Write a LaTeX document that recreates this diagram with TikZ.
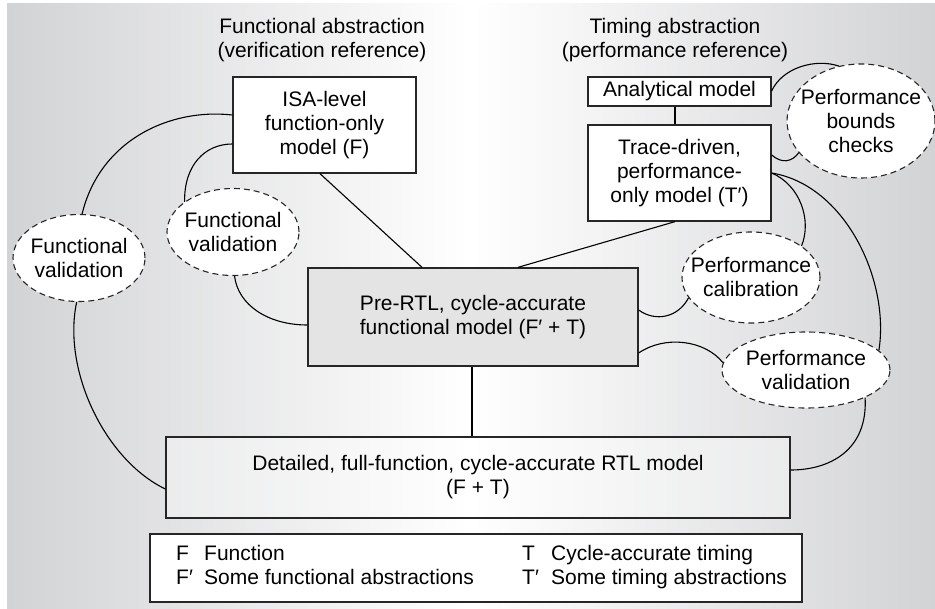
\documentclass[tikz,border=0pt]{standalone}
\usepackage{fontspec}
\setmainfont{Liberation Sans}
\usetikzlibrary{shapes.geometric}
\definecolor{bgedge}{RGB}{210,211,213}
\definecolor{boxgray}{RGB}{228,228,228}
\tikzset{
  every node/.style={font=\fontsize{21}{24}\selectfont},
  box/.style={draw=black!85, line width=1.3pt, rectangle, inner sep=0pt, align=center},
  ell/.style={draw=black!85, line width=1.1pt, dash pattern=on 6pt off 4pt, ellipse, fill=white, inner sep=0pt},
  conn/.style={draw=black, line width=1.1pt},
  lbl/.style={align=center, font=\fontsize{21}{24}\selectfont},
  legtxt/.style={anchor=base west, inner sep=0pt}
}
\begin{document}
\begin{tikzpicture}[x=1pt,y=1pt]
\useasboundingbox (0,0) rectangle (935,-609);
\fill[white] (0,0) rectangle (935,-609);
\shade[left color=bgedge, right color=bgedge, middle color=white] (7,-4) rectangle (935,-609);

% titles
\node[align=center] (ttlF) at (322,-40) {Functional abstraction\\(verification reference)};
\node[align=center] (ttlT) at (675,-40) {Timing abstraction\\(performance reference)};

% boxes
\node[box, fill=white, minimum width=183pt, minimum height=96pt] (isa) at (324.5,-125) {ISA-level\\function-only\\model (F)};
\node[box, fill=white, minimum width=183pt, minimum height=29pt] (ana) at (679.5,-91.5) {Analytical model};
\node[box, fill=white, minimum width=183pt, minimum height=96pt] (trace) at (679.5,-173) {Trace-driven,\\performance-\\only model (T′)};
\node[box, fill=boxgray, minimum width=330pt, minimum height=98pt] (pre) at (473,-317) {Pre-RTL, cycle-accurate\\functional model (F′ + T)};
\node[box, fill=white, fill opacity=0.35, text opacity=1, minimum width=624pt, minimum height=81pt] (det) at (478,-477.5) {Detailed, full-function, cycle-accurate RTL model\\(F + T)};
\node[box, fill=white, minimum width=652pt, minimum height=68pt] (leg) at (476,-568) {};

% legend
\node[legtxt] (lF) at (176,-560) {F};
\node[legtxt] (lFt) at (204,-560) {Function};
\node[legtxt] (lFp) at (176,-584) {F′};
\node[legtxt] (lFpt) at (204,-584) {Some functional abstractions};
\node[legtxt] (lT) at (522,-560) {T};
\node[legtxt] (lTt) at (551,-560) {Cycle-accurate timing};
\node[legtxt] (lTp) at (522,-584) {T′};
\node[legtxt] (lTpt) at (551,-584) {Some timing abstractions};

% straight connectors
\draw[conn] ([xshift=-4.5pt]isa.south) -- ([xshift=-51pt]pre.north);
\draw[conn] ([xshift=-4.5pt]trace.south) -- ([xshift=45pt]pre.north);
\draw[conn] ([xshift=-4.5pt]ana.south) -- ([xshift=-4.5pt]trace.north);
\draw[conn] ([xshift=-1pt]pre.south) -- ([xshift=-6pt]det.north);

% ellipses (drawn after lines they touch)
\node[ell, minimum width=132pt, minimum height=87pt, label={[lbl]center:Functional\\validation}] (fv1) at (79,-258) {};
\node[ell, minimum width=132pt, minimum height=87pt, label={[lbl]center:Functional\\validation}] (fv2) at (233,-232) {};
\node[ell, minimum width=138pt, minimum height=91pt, label={[lbl]center:Performance\\calibration}] (pc) at (751,-277.5) {};
\node[ell, minimum width=168pt, minimum height=76pt, label={[lbl]center:Performance\\validation}] (pv) at (806,-370) {};
\node[ell, minimum width=148pt, minimum height=114pt, label={[lbl]center:Performance\\bounds\\checks}] (pb) at (861,-121) {};

% curved connectors
\draw[conn] ([yshift=10pt]isa.west) .. controls (170,-108) and (100,-140) .. (fv1.86);
\draw[conn] ([yshift=-19pt]isa.west) .. controls (205,-144) and (184,-165) .. (fv2.148.5);
\draw[conn] (fv2.272.6) .. controls (238,-305) and (268,-325) .. ([yshift=-8pt]pre.west);
\draw[conn] (fv1.267.4) .. controls (62,-370) and (105,-460) .. ([yshift=-11.5pt]det.west);
\draw[conn] ([yshift=0.5pt]ana.east) .. controls (782,-68) and (815,-58) .. (pb.112.7);
\draw[conn] ([yshift=18pt]trace.east) .. controls (782,-164) and (792,-162) .. (pb.207.7);
\draw[conn] (trace.east) .. controls (800,-185) and (812,-220) .. (pc.32.5);
\draw[conn] (trace.east) .. controls (845,-185) and (890,-280) .. (pv.15.7);
\draw[conn] ([yshift=7pt]pre.east) .. controls (655,-322) and (678,-318) .. (pc.198.6);
\draw[conn] ([yshift=-36pt]pre.east) .. controls (665,-335) and (705,-340) .. (pv.175.2);
\draw[conn] (pv.335.4) .. controls (868,-450) and (830,-470) .. ([yshift=7.5pt]det.east);
\end{tikzpicture}
\end{document}
